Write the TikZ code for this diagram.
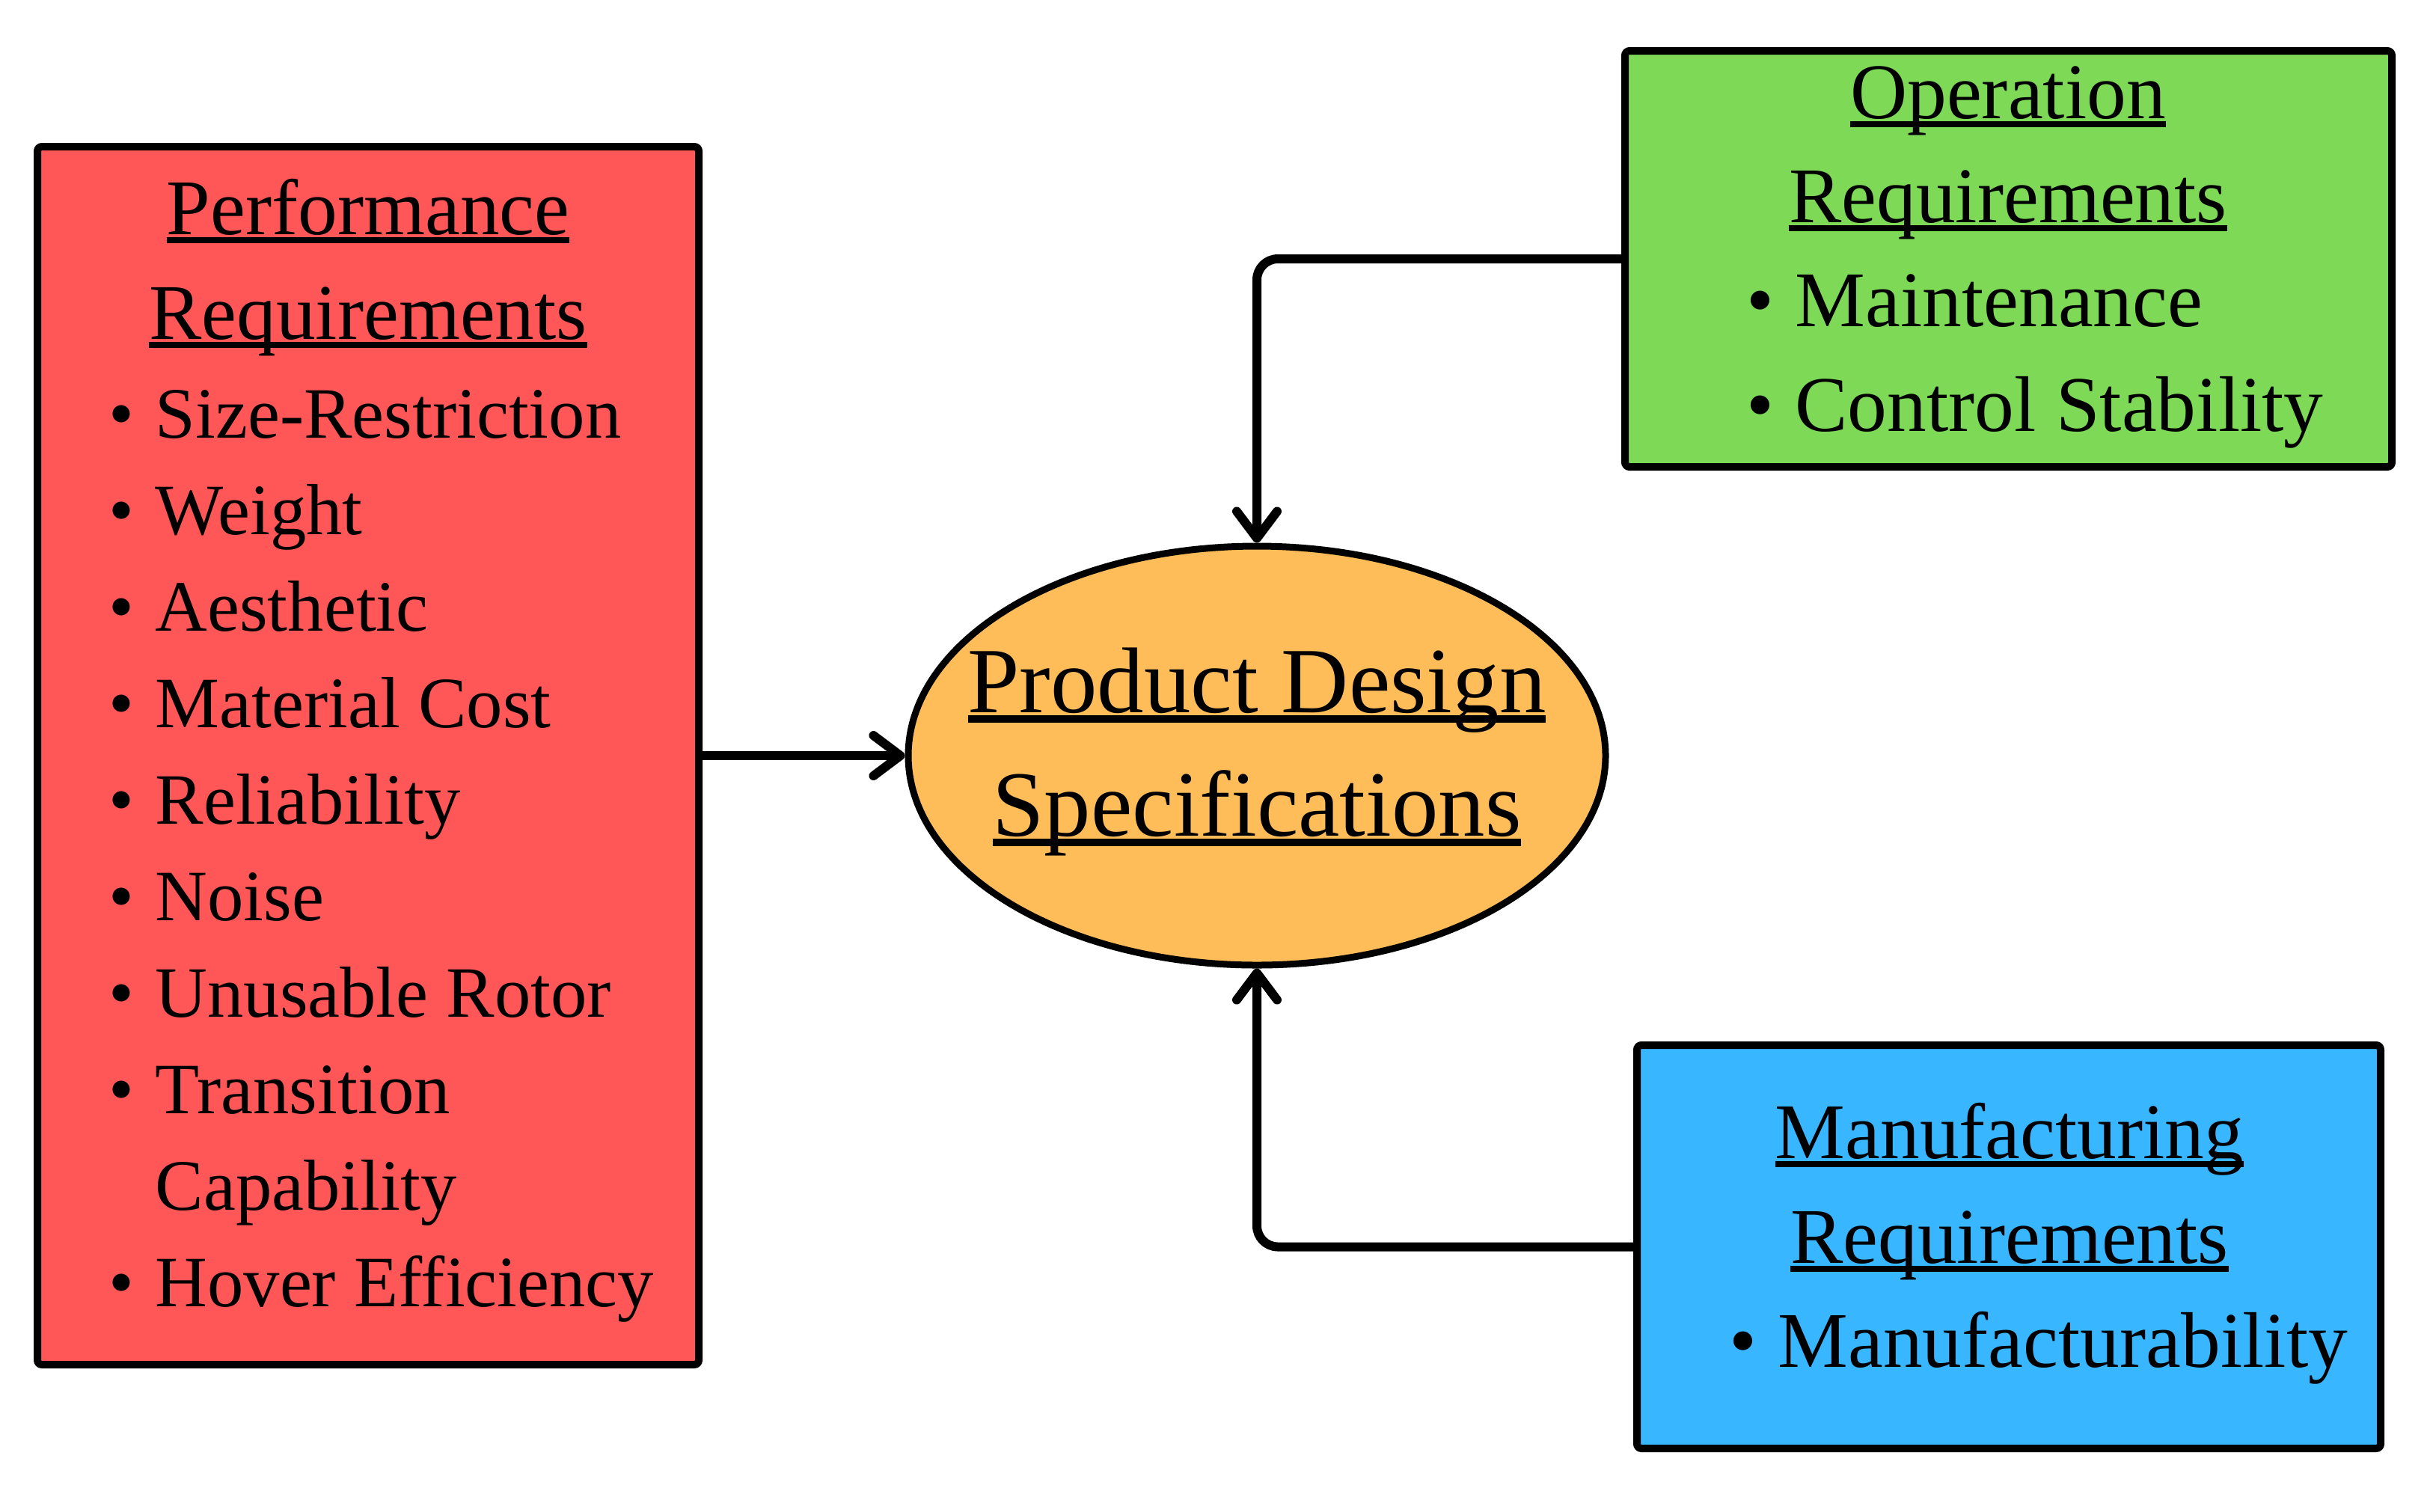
\documentclass[tikz,border=0pt]{standalone}
\usepackage{fontspec}
\setmainfont{Liberation Serif}
\usepackage{tikz}
\usetikzlibrary{arrows.meta,shapes.geometric}

\definecolor{perfred}{HTML}{FF5757}
\definecolor{opgreen}{HTML}{7ED957}
\definecolor{mfgblue}{HTML}{38B6FF}
\definecolor{pdsorange}{HTML}{FFBD59}

\newcommand{\ulin}[1]{\setbox0\hbox{#1}\rlap{\rule[-0.11em]{\wd0}{0.075em}}\box0}
\newcommand{\bul}{\llap{\textbullet\hspace{0.28cm}}}

\tikzset{
  reqbox/.style={draw, line width=0.1cm, rounded corners=0.06cm, inner sep=0pt},
  headline/.style={font=\fontsize{30}{36}\selectfont, anchor=base, inner sep=0pt},
  listline/.style={font=\fontsize{30}{36}\selectfont, anchor=base west, inner sep=0pt},
  smalllist/.style={font=\fontsize{27.5}{33}\selectfont, anchor=base west, inner sep=0pt},
  pdsline/.style={font=\fontsize{35.5}{42}\selectfont, anchor=base, inner sep=0pt},
  link/.style={line width=0.12cm, rounded corners=0.28cm, -{Straight Barb[round, length=0.36cm, width=0.54cm]}}
}

\begin{document}
\begin{tikzpicture}
  \useasboundingbox (0,0) rectangle (32.48,-20.20);

  \node[reqbox, fill=perfred, minimum width=8.84cm, minimum height=16.28cm] (perf) at (4.92,-10.10) {};
  \node[reqbox, fill=opgreen, minimum width=10.25cm, minimum height=5.56cm] (ops) at (26.845,-3.46) {};
  \node[reqbox, fill=mfgblue, minimum width=9.94cm, minimum height=5.39cm] (mfg) at (26.85,-16.665) {};
  \node[draw, ellipse, fill=pdsorange, line width=0.09cm, minimum width=9.32cm, minimum height=5.60cm, inner sep=0pt] (pds) at (16.80,-10.10) {};

  \node[headline] (perfh1) at (4.92,-3.13) {\ulin{Performance}};
  \node[headline] (perfh2) at (4.92,-4.53) {\ulin{Requirements}};
  \node[smalllist] (perf1) at (2.07,-5.85) {\bul Size-Restriction};
  \node[smalllist] (perf2) at (2.07,-7.14) {\bul Weight};
  \node[smalllist] (perf3) at (2.07,-8.43) {\bul Aesthetic};
  \node[smalllist] (perf4) at (2.07,-9.72) {\bul Material Cost};
  \node[smalllist] (perf5) at (2.07,-11.01) {\bul Reliability};
  \node[smalllist] (perf6) at (2.07,-12.30) {\bul Noise};
  \node[smalllist] (perf7) at (2.07,-13.59) {\bul Unusable Rotor};
  \node[smalllist] (perf8) at (2.07,-14.88) {\bul Transition};
  \node[smalllist] (perf8b) at (2.07,-16.17) {Capability};
  \node[smalllist] (perf9) at (2.07,-17.46) {\bul Hover Efficiency};

  \node[headline] (opsh1) at (26.84,-1.58) {\ulin{Operation}};
  \node[headline] (opsh2) at (26.84,-2.97) {\ulin{Requirements}};
  \node[listline] (ops1) at (23.99,-4.36) {\bul Maintenance};
  \node[listline] (ops2) at (23.99,-5.76) {\bul Control Stability};

  \node[headline] (mfgh1) at (26.86,-15.48) {\ulin{Manufacturing}};
  \node[headline] (mfgh2) at (26.86,-16.88) {\ulin{Requirements}};
  \node[listline] (mfg1) at (23.76,-18.27) {\bul Manufacturability};

  \node[pdsline] (pdsh1) at (16.80,-9.52) {\ulin{Product Design}};
  \node[pdsline] (pdsh2) at (16.80,-11.17) {\ulin{Specifications}};

  \draw[link] (perf.east) -- (pds.west);
  \draw[link] (ops.west) -| (pds.north);
  \draw[link] (mfg.west) -| (pds.south);
\end{tikzpicture}
\end{document}
